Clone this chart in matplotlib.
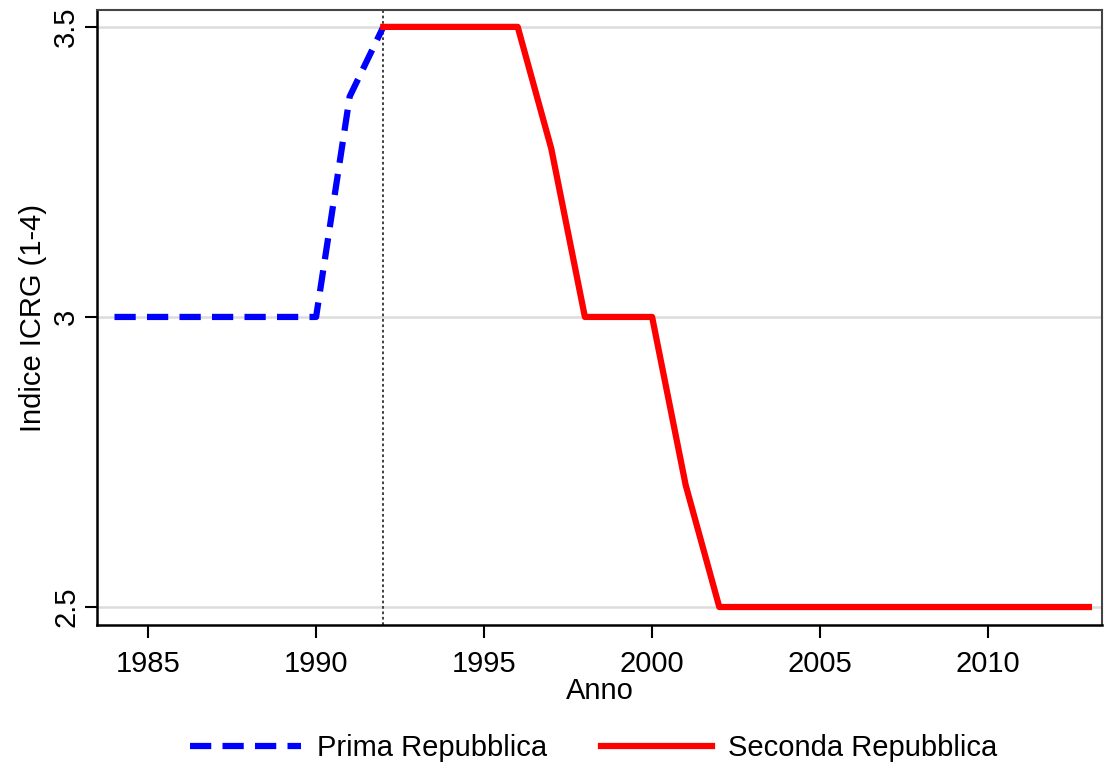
import matplotlib.pyplot as plt

plt.rcParams['font.family'] = ['Liberation Sans', 'DejaVu Sans']

# Prima Repubblica (dashed blue)
anni_prima = [1984, 1985, 1986, 1987, 1988, 1989, 1990, 1991, 1992]
icrg_prima = [3.0, 3.0, 3.0, 3.0, 3.0, 3.0, 3.0, 3.38, 3.5]

# Seconda Repubblica (solid red)
anni_seconda = list(range(1992, 2014))
icrg_seconda = [3.5, 3.5, 3.5, 3.5, 3.5, 3.29, 3.0, 3.0, 3.0, 2.71, 2.5,
                2.5, 2.5, 2.5, 2.5, 2.5, 2.5, 2.5, 2.5, 2.5, 2.5, 2.5]

x_ticks = [1985, 1990, 1995, 2000, 2005, 2010]
y_ticks = [2.5, 3, 3.5]
y_tick_labels = ['2.5', '3', '3.5']

fig = plt.figure(figsize=(11.05, 7.74), dpi=100)
ax = fig.add_axes([0.0878, 0.1925, 0.9095, 0.7945])

for y in y_ticks:
    ax.axhline(y, color='#dcdcdc', lw=1.8, zorder=0)
ax.axvline(1992, color='#333333', lw=1.3, ls=(0, (1.5, 1.5)), zorder=1)

ax.plot(anni_prima, icrg_prima, color='#0000ff', lw=4.5, ls=(0, (3.4, 1.8)),
        label='Prima Repubblica', zorder=3)
ax.plot(anni_seconda, icrg_seconda, color='#ff0000', lw=4.5,
        label='Seconda Repubblica', zorder=3)

ax.set_xlim(1983.48, 2013.39)
ax.set_ylim(2.469, 3.529)
ax.set_xticks(x_ticks)
ax.set_yticks(y_ticks)
ax.set_yticklabels(y_tick_labels, rotation=90, va='center')
ax.tick_params(axis='both', labelsize=21, length=9, width=1.5, colors='black')
ax.tick_params(axis='x', pad=9)
ax.tick_params(axis='y', pad=3)

for side in ['left', 'bottom']:
    ax.spines[side].set_linewidth(1.8)
    ax.spines[side].set_color('black')
for side in ['top', 'right']:
    ax.spines[side].set_linewidth(1.5)
    ax.spines[side].set_color('#444444')

ax.set_xlabel('Anno', fontsize=21, labelpad=-1)
ax.set_ylabel('Indice ICRG (1-4)', fontsize=21, labelpad=4)

fig.legend(loc='center', bbox_to_anchor=(0.5375, 0.033), ncol=2, frameon=False,
           fontsize=21, handlelength=3.8, columnspacing=1.85, handletextpad=0.55)

fig.savefig('out.png', dpi=100)
